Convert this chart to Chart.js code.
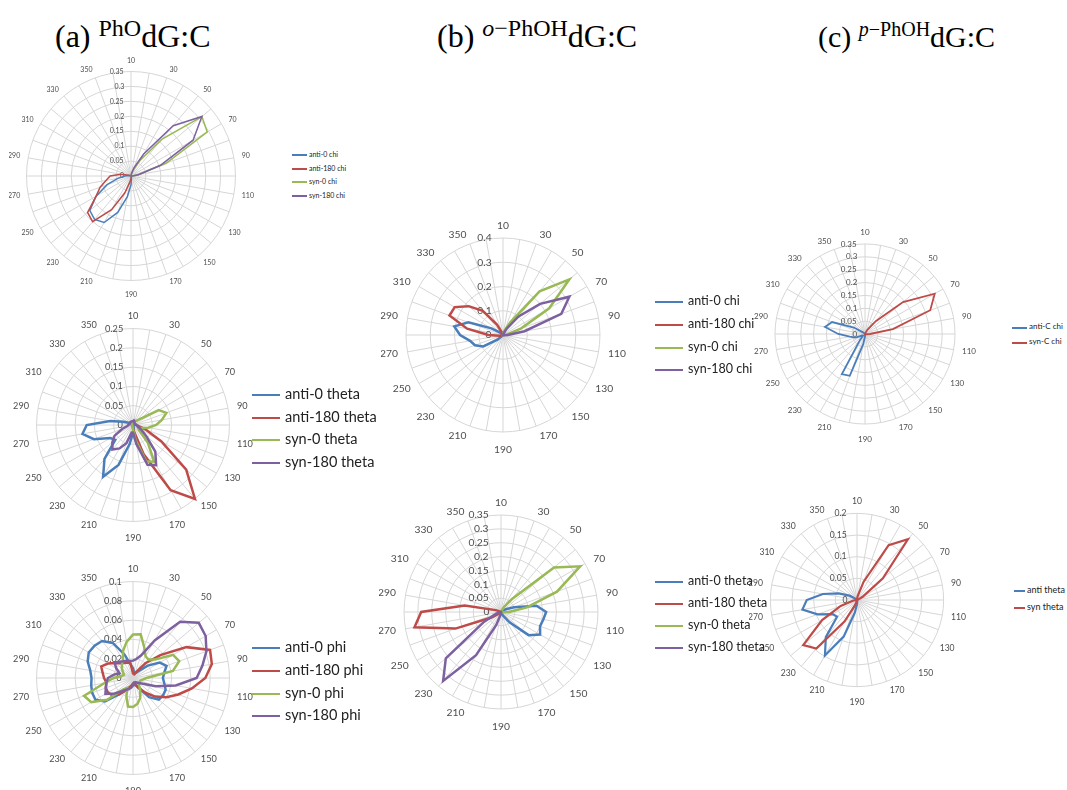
<!DOCTYPE html>
<html>
<head>
<meta charset="utf-8">
<script src="https://cdn.jsdelivr.net/npm/chart.js@4.4.1/dist/chart.umd.min.js"></script>
<style>
  html, body { margin: 0; padding: 0; background: #fff; }
  body { position: relative; width: 1067px; height: 790px; overflow: hidden; font-family: Lato, 'Liberation Sans', sans-serif; }
  canvas { position: absolute; }
  .title { position: absolute; font-family: 'Liberation Serif', 'Times New Roman', serif; font-size: 32px; line-height: 32px; white-space: nowrap; color: #000; z-index: 2; }
  .title .sup { font-size: 24px; position: relative; top: -11px; }
  .title.small { font-size: 30px; line-height: 30px; }
  .title.small .sup { font-size: 20px; top: -11px; }
  .legend-item { position: absolute; white-space: nowrap; z-index: 2; }
  .legend-item .key { position: absolute; left: 0; }
  .legend-item .txt { position: absolute; color: #222; font-family: Lato, 'Liberation Sans', sans-serif; }
</style>
</head>
<body>
<div class="title" style="left:55px; top:20px;">(a) <span class="sup">PhO</span>dG:C</div>
<div class="title" style="left:437px; top:20px;">(b) <span class="sup"><i>o</i>&#8722;PhOH</span>dG:C</div>
<div class="title small" style="left:818px; top:22px;">(c) <span class="sup"><i>p</i>&#8722;PhOH</span>dG:C</div>

<script>
// Dihedral-angle categories (degrees), one spoke every 10 degrees.
const angleLabels = ['10','20','30','40','50','60','70','80','90','100','110','120',
  '130','140','150','160','170','180','190','200','210','220','230','240',
  '250','260','270','280','290','300','310','320','330','340','350','360'];

// (a) PhO-dG:C — chi
const phoChiAnti0   = [0,0,0,0,0,0,0,0,0,0,0,0,0,0,0,0,0.002,0.008,0.03,0.07,0.13,0.18,0.19,0.18,0.135,0.085,0.045,0.02,0.008,0.003,0,0,0,0,0,0];
const phoChiAnti180 = [0,0,0,0,0,0,0,0,0,0,0,0,0,0,0,0,0,0.003,0.008,0.02,0.06,0.13,0.2,0.19,0.135,0.11,0.085,0.07,0.035,0.008,0.002,0,0,0,0,0];
const phoChiSyn0    = [0.002,0.005,0.02,0.06,0.16,0.31,0.295,0.125,0.025,0.005,0.002,0,0,0,0,0,0,0,0,0,0,0,0,0,0,0,0,0,0,0,0,0,0,0,0,0];
const phoChiSyn180  = [0.002,0.008,0.03,0.085,0.22,0.31,0.24,0.105,0.025,0.005,0.002,0,0,0,0,0,0,0,0,0,0,0,0,0,0,0,0,0,0,0,0,0,0,0,0,0];

// (a) PhO-dG:C — theta
const phoThetaAnti0   = [0.003,0.002,0.002,0.002,0.002,0.002,0.002,0.002,0.002,0.002,0.002,0.002,0.002,0.002,0.002,0.002,0.005,0.01,0.02,0.05,0.11,0.155,0.115,0.06,0.068,0.108,0.133,0.12,0.06,0.025,0.01,0.005,0.003,0.003,0.003,0.003];
const phoThetaAnti180 = [0.005,0.006,0.006,0.005,0.005,0.005,0.005,0.006,0.008,0.01,0.015,0.035,0.085,0.18,0.25,0.195,0.08,0.02,0.008,0.005,0.003,0.003,0.003,0.003,0.003,0.003,0.003,0.003,0.003,0.003,0.003,0.003,0.003,0.003,0.003,0.003];
const phoThetaSyn0    = [0.005,0.006,0.008,0.012,0.015,0.025,0.077,0.092,0.076,0.06,0.04,0.022,0.015,0.02,0.06,0.11,0.1,0.04,0.012,0.005,0.003,0.003,0.003,0.003,0.003,0.003,0.003,0.003,0.003,0.003,0.003,0.003,0.003,0.003,0.003,0.003];
const phoThetaSyn180  = [0.01,0.012,0.01,0.008,0.006,0.005,0.005,0.005,0.006,0.008,0.01,0.015,0.025,0.045,0.09,0.12,0.11,0.05,0.02,0.02,0.05,0.07,0.083,0.07,0.055,0.03,0.015,0.012,0.01,0.01,0.01,0.01,0.01,0.01,0.01,0.01];

// (a) PhO-dG:C — phi
const phoPhiAnti0   = [0.01,0.006,0.005,0.006,0.01,0.02,0.032,0.037,0.033,0.031,0.033,0.036,0.036,0.035,0.026,0.012,0.006,0.005,0.006,0.008,0.012,0.012,0.022,0.038,0.045,0.045,0.044,0.043,0.045,0.05,0.053,0.052,0.05,0.042,0.026,0.014];
const phoPhiAnti180 = [0.005,0.004,0.004,0.008,0.02,0.037,0.064,0.085,0.083,0.075,0.062,0.05,0.04,0.03,0.02,0.012,0.008,0.006,0.006,0.008,0.01,0.015,0.022,0.028,0.03,0.03,0.028,0.03,0.032,0.035,0.03,0.024,0.02,0.018,0.017,0.016];
const phoPhiSyn0    = [0.045,0.046,0.034,0.026,0.025,0.03,0.048,0.051,0.042,0.014,0.01,0.008,0.008,0.008,0.01,0.015,0.022,0.027,0.03,0.03,0.02,0.012,0.015,0.035,0.05,0.054,0.03,0.02,0.012,0.01,0.012,0.015,0.018,0.021,0.03,0.038];
const phoPhiSyn180  = [0.018,0.02,0.025,0.045,0.076,0.089,0.087,0.081,0.073,0.066,0.045,0.025,0.012,0.008,0.006,0.005,0.005,0.006,0.008,0.01,0.012,0.014,0.018,0.025,0.033,0.03,0.028,0.026,0.02,0.015,0.02,0.025,0.022,0.02,0.019,0.018];

// (b) o-PhOH-dG:C — chi
const oChiAnti0   = [0,0,0,0,0,0,0,0,0,0,0,0,0,0,0,0,0,0,0,0,0,0,0.005,0.03,0.094,0.123,0.138,0.177,0.204,0.152,0.055,0.015,0.005,0,0,0];
const oChiAnti180 = [0,0,0,0,0,0,0,0,0,0,0,0,0,0,0,0,0,0,0,0,0,0,0,0,0,0,0.015,0.06,0.15,0.235,0.23,0.185,0.13,0.05,0.01,0];
const oChiSyn0    = [0,0.005,0.02,0.06,0.235,0.357,0.22,0.08,0.02,0.005,0,0,0,0,0,0,0,0,0,0,0,0,0,0,0,0,0,0,0,0,0,0,0,0,0,0];
const oChiSyn180  = [0,0,0.005,0.03,0.1,0.2,0.316,0.256,0.09,0.02,0.005,0,0,0,0,0,0,0,0,0,0,0,0,0,0,0,0,0,0,0,0,0,0,0,0,0];

// (b) o-PhOH-dG:C — theta
const oThetaAnti0   = [0,0,0,0,0,0.005,0.02,0.05,0.13,0.163,0.155,0.15,0.163,0.13,0.05,0.015,0.005,0,0,0,0,0,0,0,0,0,0,0,0,0,0,0,0,0,0,0];
const oThetaAnti180 = [0,0,0,0,0,0,0,0,0,0,0,0,0,0,0,0,0,0,0,0,0,0,0,0.01,0.04,0.175,0.317,0.288,0.133,0.02,0.005,0,0,0,0,0];
const oThetaSyn0    = [0,0,0.005,0.02,0.06,0.25,0.33,0.215,0.095,0.03,0.005,0,0,0,0,0,0,0,0,0,0,0,0,0,0,0,0,0,0,0,0,0,0,0,0,0];
const oThetaSyn180  = [0,0,0,0,0,0,0,0,0,0,0,0,0,0,0,0,0,0,0.005,0.01,0.05,0.18,0.325,0.26,0.07,0.02,0.005,0,0,0,0,0,0,0,0,0];

// (c) p-PhOH-dG:C — chi
const pChiAntiC = [0,0,0,0,0,0,0,0,0,0,0,0,0,0,0,0,0,0.003,0.01,0.04,0.173,0.18,0.03,0.01,0.012,0.04,0.06,0.104,0.158,0.136,0.05,0.01,0.003,0,0,0];
const pChiSynC  = [0,0,0.005,0.02,0.065,0.193,0.313,0.27,0.11,0.02,0.005,0,0,0,0,0,0,0,0,0,0,0,0,0,0,0,0,0,0,0,0,0,0,0,0,0];

// (c) p-PhOH-dG:C — theta
const pThetaAnti = [0,0,0,0,0,0,0,0,0,0,0,0,0,0,0,0,0,0.003,0.01,0.03,0.09,0.148,0.112,0.06,0.065,0.097,0.128,0.116,0.08,0.045,0.02,0.005,0,0,0,0];
const pThetaSyn  = [0.003,0.01,0.045,0.146,0.183,0.078,0.015,0.003,0,0,0,0,0,0,0,0,0,0,0,0.003,0.012,0.057,0.146,0.162,0.093,0.04,0.01,0.003,0,0,0,0,0,0,0,0];

const BLUE = '#4A7EBB', RED = '#BE4B48', GREEN = '#98B954', PURPLE = '#7D60A0';
const GRID = '#d6d6d6';
const TEXT = '#4d4d4d';

const panels = [
  { cx: 131, cy: 176, radius: 104, max: 0.35, step: 0.05, font: 7, lineWidth: 1.5, gap: 7,
    legend: { x: 292, len: 15, textX: 309, ys: [155, 169, 182, 196], font: 7, lw: 1.5 },
    series: [
      { label: 'anti-0 chi', data: phoChiAnti0, color: BLUE },
      { label: 'anti-180 chi', data: phoChiAnti180, color: RED },
      { label: 'syn-0 chi', data: phoChiSyn0, color: GREEN },
      { label: 'syn-180 chi', data: phoChiSyn180, color: PURPLE } ] },
  { cx: 133, cy: 425, radius: 96, max: 0.25, step: 0.05, font: 9.2, lineWidth: 2.5, gap: 10,
    legend: { x: 252, len: 28, textX: 285, ys: [395, 418, 440, 463], font: 14.5, lw: 2.5 },
    series: [
      { label: 'anti-0 theta', data: phoThetaAnti0, color: BLUE },
      { label: 'anti-180 theta', data: phoThetaAnti180, color: RED },
      { label: 'syn-0 theta', data: phoThetaSyn0, color: GREEN },
      { label: 'syn-180 theta', data: phoThetaSyn180, color: PURPLE } ] },
  { cx: 133, cy: 678, radius: 96, max: 0.1, step: 0.02, font: 9.2, lineWidth: 2.5, gap: 11,
    legend: { x: 252, len: 28, textX: 285, ys: [648, 671, 694, 716], font: 14.5, lw: 2.5 },
    series: [
      { label: 'anti-0 phi', data: phoPhiAnti0, color: BLUE },
      { label: 'anti-180 phi', data: phoPhiAnti180, color: RED },
      { label: 'syn-0 phi', data: phoPhiSyn0, color: GREEN },
      { label: 'syn-180 phi', data: phoPhiSyn180, color: PURPLE } ] },
  { cx: 503, cy: 335, radius: 97, max: 0.4, step: 0.1, font: 10.3, lineWidth: 2.5, gap: 11,
    legend: { x: 655, len: 28, textX: 688, ys: [302, 325, 348, 370], font: 12.5, lw: 2.5 },
    series: [
      { label: 'anti-0 chi', data: oChiAnti0, color: BLUE },
      { label: 'anti-180 chi', data: oChiAnti180, color: RED },
      { label: 'syn-0 chi', data: oChiSyn0, color: GREEN },
      { label: 'syn-180 chi', data: oChiSyn180, color: PURPLE } ] },
  { cx: 501, cy: 612, radius: 97, max: 0.35, step: 0.05, font: 10.3, lineWidth: 2.5, gap: 12,
    legend: { x: 655, len: 28, textX: 688, ys: [582, 604, 626, 648], font: 12.5, lw: 2.5 },
    series: [
      { label: 'anti-0 theta', data: oThetaAnti0, color: BLUE },
      { label: 'anti-180 theta', data: oThetaAnti180, color: RED },
      { label: 'syn-0 theta', data: oThetaSyn0, color: GREEN },
      { label: 'syn-180 theta', data: oThetaSyn180, color: PURPLE } ] },
  { cx: 865, cy: 334, radius: 90, max: 0.35, step: 0.05, font: 8, lineWidth: 1.8, gap: 8,
    legend: { x: 1012, len: 15, textX: 1029, ys: [328, 343], font: 8, lw: 1.8 },
    series: [
      { label: 'anti-C chi', data: pChiAntiC, color: BLUE },
      { label: 'syn-C chi', data: pChiSynC, color: RED } ] },
  { cx: 857, cy: 600, radius: 87, max: 0.2, step: 0.05, font: 8.6, lineWidth: 2.2, gap: 10,
    legend: { x: 1014, len: 11, textX: 1027, ys: [591, 608], font: 9, lw: 2.2 },
    series: [
      { label: 'anti theta', data: pThetaAnti, color: BLUE },
      { label: 'syn theta', data: pThetaSyn, color: RED } ] }
];

// Value-axis labels sit to the left of the vertical spoke: pad the centred
// text with trailing spaces so its right edge ends `gap` px before the spoke.
const measureCtx = document.createElement('canvas').getContext('2d');
function tickText(value, fontPx, gap) {
  const text = String(Math.round(value * 1000) / 1000);
  measureCtx.font = fontPx + 'px Lato';
  const w = measureCtx.measureText(text).width;
  const sp = measureCtx.measureText(' ').width;
  const n = Math.max(0, Math.round((w + 2 * gap) / sp));
  return text + ' '.repeat(n);
}

// Angle labels are centred vertically on their spoke's extension (a 1px line
// height makes the library treat each label as a thin strip); the top and
// bottom labels get extra room so they clear the outer ring.
function pointLabelPadding(p, index) {
  if (index === 0) return 6 + 0.1 * p.font;   // the axis adds font/2 above index 0
  if (index === 18) return 6 + 0.6 * p.font;
  return 4.5;
}

function radarConfig(p) {
  return {
    type: 'radar',
    data: {
      labels: angleLabels,
      datasets: p.series.map((s, i) => ({
        label: s.label,
        data: s.data,
        borderColor: s.color,
        backgroundColor: 'rgba(0,0,0,0)',
        fill: false,
        borderWidth: p.lineWidth,
        pointRadius: 0,
        pointHoverRadius: 0,
        pointHitRadius: 0,
        tension: 0,
        order: p.series.length - i
      }))
    },
    options: {
      responsive: false,
      animation: false,
      devicePixelRatio: 1,
      events: [],
      plugins: { legend: { display: false }, tooltip: { enabled: false } },
      scales: {
        r: {
          // a hair below zero so the "0" label at the centre is drawn too
          min: -1e-9,
          max: p.max,
          startAngle: 0,
          grid: { circular: true, color: GRID, lineWidth: 1 },
          angleLines: { color: GRID, lineWidth: 1 },
          ticks: {
            stepSize: p.step,
            showLabelBackdrop: false,
            backdropPadding: 0,
            color: TEXT,
            font: { family: 'Lato', size: p.font },
            callback: (v) => tickText(v, p.font, p.gap)
          },
          pointLabels: {
            color: TEXT,
            padding: (ctx) => pointLabelPadding(p, ctx.index),
            font: { family: 'Lato', size: p.font, lineHeight: '1px' },
            callback: (label, index) => (index % 2 === 0 ? label : '')
          }
        }
      }
    }
  };
}

// Grow or shrink each canvas until the plotted radius is the wanted one,
// then shift it so the radar's centre lands where the panel belongs.
function mountRadar(p) {
  let size = Math.round(2 * p.radius + 6 * p.font + 20);
  let chart = null, canvas = null;
  for (let k = 0; k < 8; k++) {
    if (chart) { chart.destroy(); canvas.remove(); }
    canvas = document.createElement('canvas');
    canvas.width = size; canvas.height = size;
    canvas.style.width = size + 'px'; canvas.style.height = size + 'px';
    canvas.style.left = '0px'; canvas.style.top = '0px';
    document.body.appendChild(canvas);
    chart = new Chart(canvas.getContext('2d'), radarConfig(p));
    const diff = p.radius - chart.scales.r.drawingArea;
    if (Math.abs(diff) < 0.5) break;
    size = Math.max(40, Math.round(size + 2 * diff));
  }
  const r = chart.scales.r;
  canvas.style.left = (p.cx - r.xCenter) + 'px';
  canvas.style.top = (p.cy - r.yCenter) + 'px';
}

function mountLegend(p) {
  const L = p.legend;
  p.series.forEach((s, i) => {
    const item = document.createElement('div');
    item.className = 'legend-item';
    item.style.left = L.x + 'px';
    item.style.top = L.ys[i] + 'px';
    const key = document.createElement('span');
    key.className = 'key';
    key.style.top = (-L.lw / 2) + 'px';
    key.style.width = L.len + 'px';
    key.style.height = L.lw + 'px';
    key.style.background = s.color;
    const txt = document.createElement('span');
    txt.className = 'txt';
    txt.textContent = s.label;
    txt.style.left = (L.textX - L.x) + 'px';
    txt.style.fontSize = L.font + 'px';
    txt.style.lineHeight = (L.font * 1.2) + 'px';
    txt.style.top = (-L.font * 0.72) + 'px';
    item.appendChild(key);
    item.appendChild(txt);
    document.body.appendChild(item);
  });
}

panels.forEach((p) => { mountRadar(p); mountLegend(p); });
</script>
</body>
</html>
